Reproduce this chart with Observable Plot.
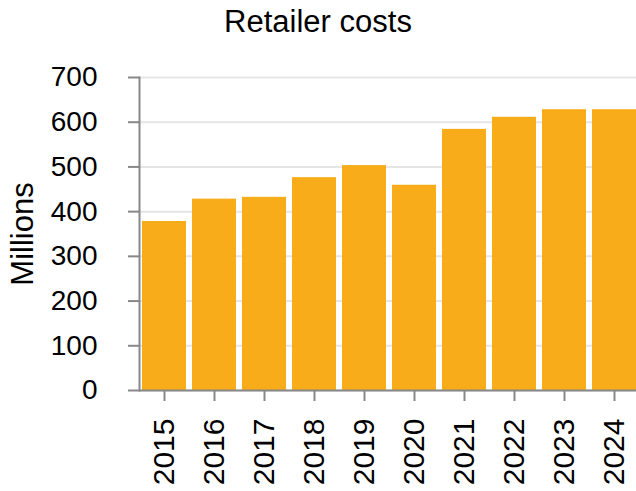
<!DOCTYPE html>
<html><head><meta charset="utf-8">
<script src="https://cdn.jsdelivr.net/npm/d3@7"></script>
<script src="https://cdn.jsdelivr.net/npm/@observablehq/plot@0.6"></script>
<style>
body{margin:0;background:#fff;overflow:hidden;font-family:"Liberation Sans",Arial,sans-serif;}
#title{width:636px;height:60px;line-height:43px;text-align:center;font-size:31px;color:#000;}
#chart svg{display:block;}
</style></head><body>
<div id="title"></div>
<div id="chart"></div>
<script>
const title = "Retailer costs";
const yLabel = "Millions";
const years = ["2015","2016","2017","2018","2019","2020","2021","2022","2023","2024"];
const costs = [378, 428, 432, 476, 503, 459, 584, 611, 628, 628];
const yTicks = [0, 100, 200, 300, 400, 500, 600, 700];
const data = years.map((year, i) => ({year, cost: costs[i]}));
document.getElementById("title").textContent = title;
const chart = Plot.plot({
  width: 636, height: 431,
  marginTop: 17, marginBottom: 101, marginLeft: 139, marginRight: 0,
  style: {fontFamily: "'Liberation Sans', Arial, sans-serif", background: "#fff", color: "#000"},
  x: {domain: years, range: [139, 639], paddingInner: 0.12, paddingOuter: 0.06},
  y: {domain: [0, 700]},
  marks: [
    Plot.gridY(yTicks, {stroke: "#e5e5e5", strokeOpacity: 1, strokeWidth: 2}),
    Plot.barY(data, {x: "year", y: "cost", fill: "#F9AC1A"}),
    Plot.axisY(yTicks, {tickSize: 11, tickPadding: 31, fontSize: 28, stroke: "#888", strokeWidth: 2, label: null}),
    Plot.axisX({tickSize: 11, tickPadding: 17, tickRotate: -90, fontSize: 30, stroke: "#888", strokeWidth: 2, label: null}),
    Plot.ruleY([0], {stroke: "#888", strokeWidth: 2}),
    Plot.frame({anchor: "left", stroke: "#888", strokeWidth: 2}),
    Plot.text([yLabel], {y: [350], frameAnchor: "left", textAnchor: "middle", rotate: -90, dx: -116, fontSize: 31, fill: "#000"})
  ]
});
document.getElementById("chart").appendChild(chart);
</script>
</body></html>
